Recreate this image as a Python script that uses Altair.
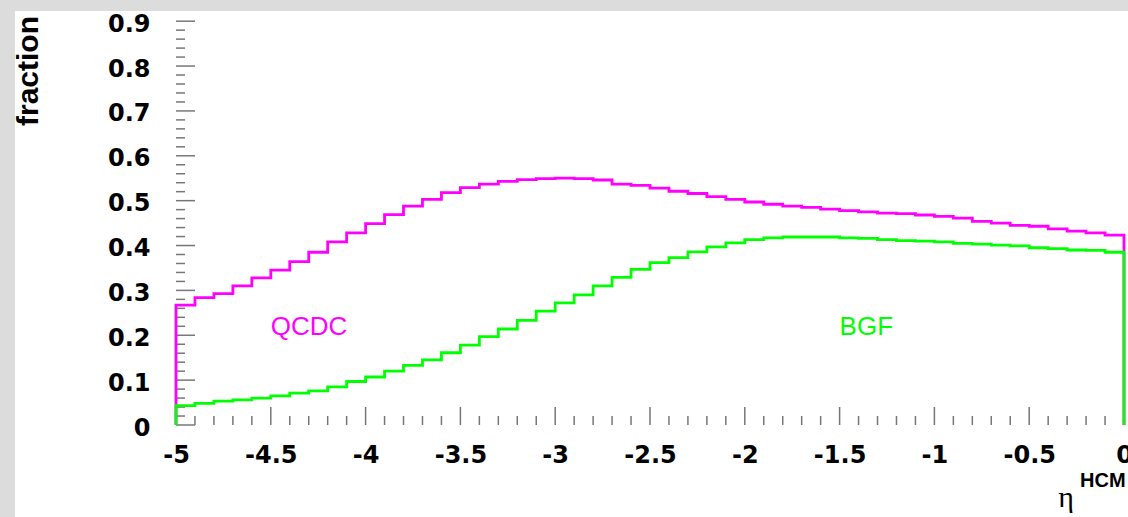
import altair as alt
import pandas as pd

# ---- data (50 bins of width 0.1 on [-5, 0]) ----
bin_edges = [round(-5 + 0.1 * i, 1) for i in range(50)]
qcdc = [0.267, 0.284, 0.293, 0.310, 0.328, 0.345, 0.364, 0.385, 0.408, 0.428,
        0.449, 0.469, 0.488, 0.503, 0.518, 0.529, 0.537, 0.543, 0.547, 0.549,
        0.550, 0.549, 0.546, 0.537, 0.534, 0.528, 0.521, 0.516, 0.509, 0.503,
        0.497, 0.492, 0.488, 0.485, 0.481, 0.478, 0.475, 0.472, 0.471, 0.468,
        0.465, 0.461, 0.454, 0.450, 0.445, 0.443, 0.437, 0.432, 0.428, 0.423]
bgf = [0.043, 0.048, 0.053, 0.056, 0.060, 0.065, 0.071, 0.076, 0.085, 0.097,
       0.107, 0.120, 0.133, 0.145, 0.161, 0.178, 0.197, 0.214, 0.233, 0.254,
       0.272, 0.290, 0.310, 0.329, 0.347, 0.362, 0.373, 0.386, 0.397, 0.406,
       0.413, 0.417, 0.419, 0.419, 0.419, 0.417, 0.416, 0.413, 0.411, 0.410,
       0.408, 0.405, 0.403, 0.401, 0.399, 0.395, 0.393, 0.390, 0.389, 0.385]

x_major = [-5, -4.5, -4, -3.5, -3, -2.5, -2, -1.5, -1, -0.5, 0]
x_minor = [round(-5 + 0.1 * i, 1) for i in range(51) if i % 5]
y_major = [0, 0.1, 0.2, 0.3, 0.4, 0.5, 0.6, 0.7, 0.8, 0.9]
y_minor = [round(0.02 * i, 2) for i in range(46) if i % 5]

labels = ["QCDC", "BGF"]
label_x = [-4.5, -1.5]
label_y = [0.2, 0.2]
colors = ["#ff00ff", "#00ff00"]

W, H = 948, 411


def outline(vals):
    xs = [-5.0] + bin_edges + [0.0, 0.0]
    ys = [0.0] + list(vals) + [vals[-1], 0.0]
    return pd.DataFrame({"x": xs, "y": ys, "o": list(range(len(xs)))})


xscale = alt.Scale(domain=[-5, 0], nice=False, zero=False)
yscale = alt.Scale(domain=[0, 0.916], nice=False, zero=False)

lab_font = dict(labelFont="DejaVu Sans", labelFontWeight="bold", labelFontSize=24,
                labelColor="black", domain=False, ticks=False, tickSize=0,
                grid=False, title=None, labelOverlap=False, labelFlush=False,
                labelExpr="'' + datum.value", zindex=1)
xaxis = alt.Axis(values=x_major, labelPadding=18, **lab_font)
yaxis = alt.Axis(values=y_major, labelPadding=26, labelOffset=3, **lab_font)

one = pd.DataFrame({"a": [0]})

white = alt.Chart(one).mark_rect(color="white").encode(
    x=alt.value(-161), x2=alt.value(W + 20), y=alt.value(-3), y2=alt.value(H + 120))

tick_style = dict(color="#777", strokeWidth=1.5)
xt_major = alt.Chart(pd.DataFrame({"x": x_major})).mark_rule(**tick_style).encode(
    x=alt.X("x:Q", scale=xscale, axis=xaxis), y=alt.value(H), y2=alt.value(H - 18))
xt_minor = alt.Chart(pd.DataFrame({"x": x_minor})).mark_rule(**tick_style).encode(
    x=alt.X("x:Q", scale=xscale, axis=xaxis), y=alt.value(H), y2=alt.value(H - 9))
yt_major = alt.Chart(pd.DataFrame({"y": y_major})).mark_rule(**tick_style).encode(
    y=alt.Y("y:Q", scale=yscale, axis=yaxis), x=alt.value(0), x2=alt.value(19))
yt_minor = alt.Chart(pd.DataFrame({"y": y_minor})).mark_rule(**tick_style).encode(
    y=alt.Y("y:Q", scale=yscale, axis=yaxis), x=alt.value(0), x2=alt.value(9))


def line(vals, color):
    return alt.Chart(outline(vals)).mark_line(
        interpolate="step-after", color=color, strokeWidth=2.8).encode(
        x=alt.X("x:Q", scale=xscale, axis=xaxis),
        y=alt.Y("y:Q", scale=yscale, axis=yaxis),
        order="o:Q")


m_line = line(qcdc, colors[0])
g_line = line(bgf, colors[1])

ann = alt.Chart(pd.DataFrame({"x": label_x, "y": label_y, "t": labels, "c": colors})).mark_text(
    font="Liberation Sans", fontSize=26, align="left", baseline="alphabetic").encode(
    x=alt.X("x:Q", scale=xscale, axis=xaxis), y=alt.Y("y:Q", scale=yscale, axis=yaxis),
    text="t:N", color=alt.Color("c:N", scale=None))

eta = alt.Chart(one).mark_text(text="η", font="Liberation Serif", fontSize=30,
                               align="center", baseline="alphabetic", color="black").encode(
    x=alt.value(890), y=alt.value(493))
hcm = alt.Chart(one).mark_text(text="HCM", font="Liberation Sans", fontWeight="bold", fontSize=20,
                               align="left", baseline="alphabetic", color="black").encode(
    x=alt.value(904), y=alt.value(473))
frac = alt.Chart(one).mark_text(text="fraction", font="Liberation Sans", fontWeight="bold", fontSize=30,
                                align="center", baseline="alphabetic", angle=270, color="black").encode(
    x=alt.value(-138), y=alt.value(57))

chart = alt.layer(
    white, xt_minor, xt_major, yt_minor, yt_major, m_line, g_line, ann, eta, hcm, frac
).properties(
    width=W, height=H,
    autosize=alt.AutoSizeParams(type="none"),
    padding={"left": 176, "top": 14, "right": 4, "bottom": 92},
    background="#dcdcdc",
).configure_view(stroke="#999999", strokeWidth=2)

chart.save("out.html", embed_options={"renderer": "svg", "actions": False})
